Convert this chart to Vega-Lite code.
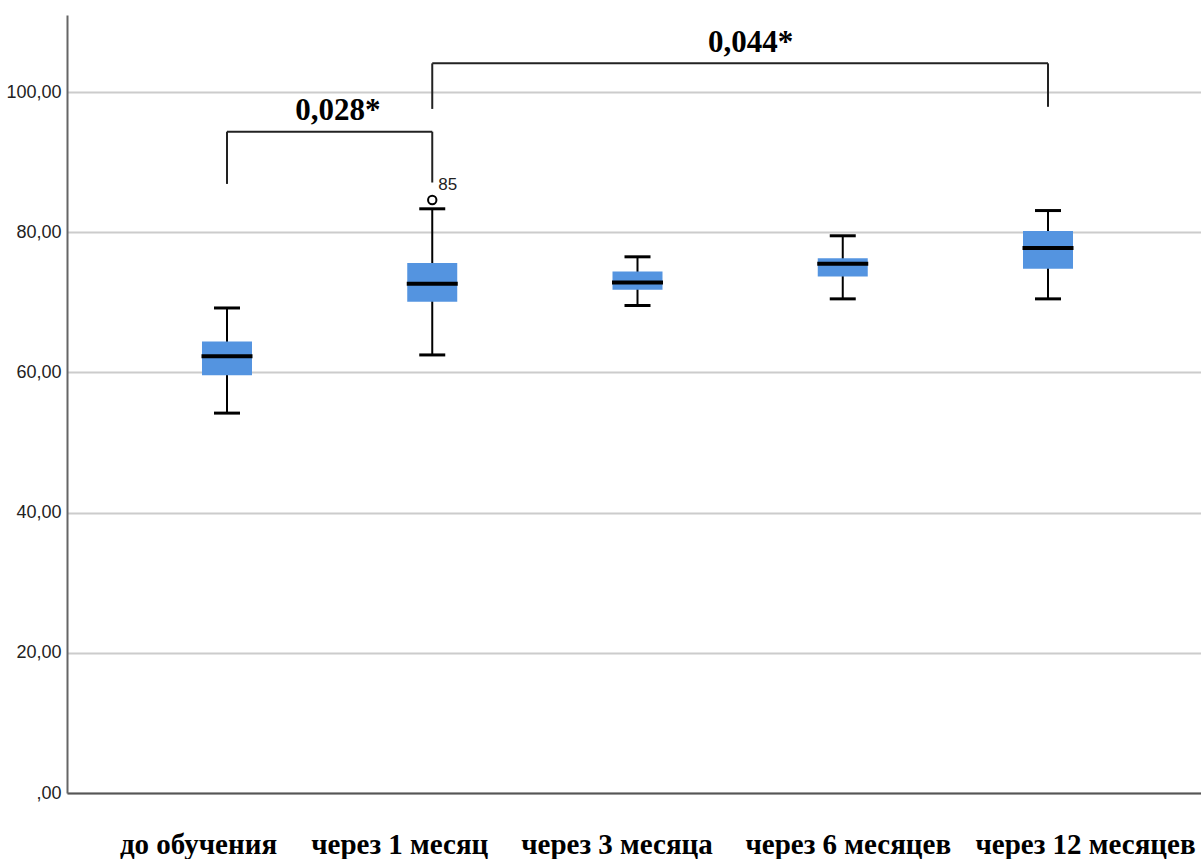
{
  "$schema": "https://vega.github.io/schema/vega-lite/v6.json",
  "autosize": {"type": "none"},
  "padding": {"left": 67, "top": 15, "right": 0, "bottom": 66},
  "width": 1141,
  "height": 778,
  "background": "white",
  "config": {"view": {"stroke": null}},
  "datasets": {
    "boxes": [
      {"group": "до обучения", "lower": 54.2, "q1": 59.6, "median": 62.3, "q3": 64.4, "upper": 69.2},
      {"group": "через 1 месяц", "lower": 62.5, "q1": 70.1, "median": 72.65, "q3": 75.6, "upper": 83.35},
      {"group": "через 3 месяца", "lower": 69.55, "q1": 71.8, "median": 72.85, "q3": 74.4, "upper": 76.5},
      {"group": "через 6 месяцев", "lower": 70.5, "q1": 73.7, "median": 75.5, "q3": 76.3, "upper": 79.5},
      {"group": "через 12 месяцев", "lower": 70.5, "q1": 74.8, "median": 77.75, "q3": 80.2, "upper": 83.1}
    ],
    "outliers": [
      {"group": "через 1 месяц", "value": 84.6, "label": "85"}
    ],
    "bracketTops": [
      {"from": "до обучения", "to": "через 1 месяц", "y": 94.35},
      {"from": "через 1 месяц", "to": "через 12 месяцев", "y": 104.1}
    ],
    "bracketLegs": [
      {"group": "до обучения", "y1": 86.9, "y2": 94.35},
      {"group": "через 1 месяц", "y1": 87.1, "y2": 94.35},
      {"group": "через 1 месяц", "y1": 97.6, "y2": 104.1},
      {"group": "через 12 месяцев", "y1": 97.9, "y2": 104.1}
    ]
  },
  "encoding": {
    "x": {
      "field": "group",
      "type": "nominal",
      "scale": {"type": "point", "padding": 0.7795, "domain": ["до обучения", "через 1 месяц", "через 3 месяца", "через 6 месяцев", "через 12 месяцев"]},
      "axis": {
        "title": null,
        "ticks": false,
        "grid": false,
        "domainColor": "#555555",
        "domainWidth": 2,
        "labelFont": "Liberation Serif",
        "labelFontWeight": "bold",
        "labelFontSize": 29,
        "labelColor": "#000000",
        "labelPadding": 37,
        "labelAngle": 0,
        "labelLimit": 0,
        "labelOverlap": false,
        "labelOffset": {
          "condition": [
            {"test": "datum.label == 'до обучения'", "value": -29},
            {"test": "datum.label == 'через 1 месяц'", "value": -33},
            {"test": "datum.label == 'через 3 месяца'", "value": -21},
            {"test": "datum.label == 'через 6 месяцев'", "value": 5}
          ],
          "value": 37
        }
      }
    }
  },
  "layer": [
    {
      "data": {"name": "boxes"},
      "mark": {"type": "rule", "color": "#000000", "strokeWidth": 2},
      "encoding": {
        "y": {
          "field": "lower",
          "type": "quantitative",
          "scale": {"domain": [0, 111], "nice": false},
          "axis": {
            "title": null,
            "values": [0, 20, 40, 60, 80, 100],
            "ticks": false,
            "grid": true,
            "gridColor": "#cccccc",
            "gridWidth": 2,
            "domainColor": "#666666",
            "domainWidth": 2,
            "labelFont": "Liberation Sans",
            "labelFontSize": 18,
            "labelColor": "#222222",
            "labelPadding": 6,
            "labelExpr": "datum.value == 0 ? ',00' : replace(format(datum.value, '.2f'), '.', ',')"
          }
        },
        "y2": {"field": "upper"}
      }
    },
    {
      "data": {"name": "boxes"},
      "mark": {"type": "bar", "color": "#5494e0", "size": 50},
      "encoding": {
        "y": {"field": "q1", "type": "quantitative"},
        "y2": {"field": "q3"}
      }
    },
    {
      "data": {"name": "boxes"},
      "mark": {"type": "tick", "color": "#000000", "size": 51, "thickness": 4, "opacity": 1},
      "encoding": {"y": {"field": "median", "type": "quantitative"}}
    },
    {
      "data": {"name": "boxes"},
      "mark": {"type": "tick", "color": "#000000", "size": 26, "thickness": 3, "opacity": 1},
      "encoding": {"y": {"field": "lower", "type": "quantitative"}}
    },
    {
      "data": {"name": "boxes"},
      "mark": {"type": "tick", "color": "#000000", "size": 26, "thickness": 3, "opacity": 1},
      "encoding": {"y": {"field": "upper", "type": "quantitative"}}
    },
    {
      "data": {"name": "outliers"},
      "mark": {"type": "point", "shape": "circle", "filled": false, "color": "#000000", "size": 70, "strokeWidth": 2, "opacity": 1},
      "encoding": {"y": {"field": "value", "type": "quantitative"}}
    },
    {
      "data": {"name": "outliers"},
      "mark": {"type": "text", "font": "Liberation Sans", "fontSize": 17, "color": "#222222", "align": "left", "baseline": "bottom", "dx": 6, "dy": -6},
      "encoding": {
        "y": {"field": "value", "type": "quantitative"},
        "text": {"field": "label"}
      }
    },
    {
      "data": {"name": "bracketTops"},
      "mark": {"type": "rule", "color": "#222222", "strokeWidth": 2},
      "encoding": {
        "x": {"field": "from", "type": "nominal"},
        "x2": {"field": "to"},
        "y": {"field": "y", "type": "quantitative"}
      }
    },
    {
      "data": {"name": "bracketLegs"},
      "mark": {"type": "rule", "color": "#222222", "strokeWidth": 2},
      "encoding": {
        "y": {"field": "y1", "type": "quantitative"},
        "y2": {"field": "y2"}
      }
    },
    {
      "data": {"values": [{"group": "до обучения", "y": 97.3, "label": "0,028*"}]},
      "mark": {"type": "text", "font": "Liberation Serif", "fontWeight": "bold", "fontSize": 31, "color": "#000000", "align": "center", "baseline": "middle", "dx": 111},
      "encoding": {
        "y": {"field": "y", "type": "quantitative"},
        "text": {"field": "label"}
      }
    },
    {
      "data": {"values": [{"group": "через 3 месяца", "y": 107.0, "label": "0,044*"}]},
      "mark": {"type": "text", "font": "Liberation Serif", "fontWeight": "bold", "fontSize": 31, "color": "#000000", "align": "center", "baseline": "middle", "dx": 113},
      "encoding": {
        "y": {"field": "y", "type": "quantitative"},
        "text": {"field": "label"}
      }
    }
  ]
}
